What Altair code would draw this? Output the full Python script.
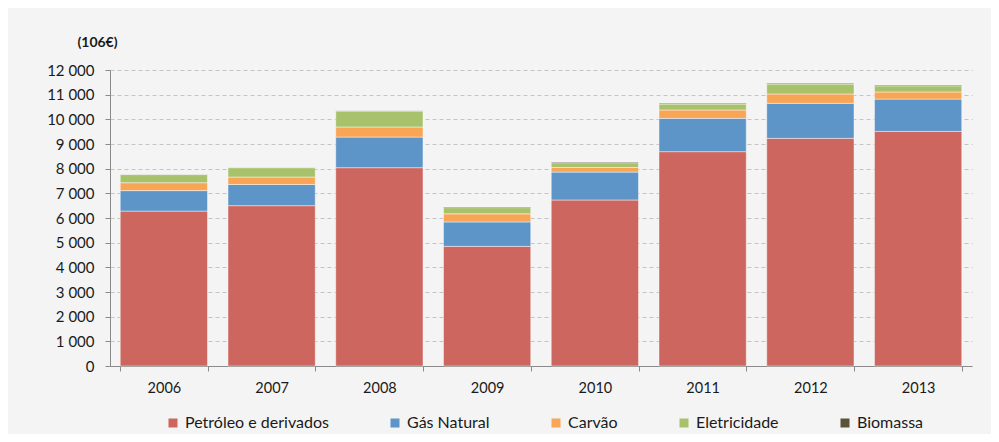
import altair as alt
import pandas as pd

years = ["2006", "2007", "2008", "2009", "2010", "2011", "2012", "2013"]
series = ["Petróleo e derivados", "Gás Natural", "Carvão", "Eletricidade", "Biomassa"]
petroleo = [6280, 6500, 8040, 4850, 6730, 8690, 9230, 9510]
gas_natural = [830, 860, 1240, 990, 1130, 1350, 1420, 1310]
carvao = [320, 300, 410, 330, 190, 340, 380, 290]
eletricidade = [330, 380, 650, 250, 190, 240, 400, 250]
biomassa = [10, 10, 10, 30, 30, 30, 30, 30]
colors = ["#CC665E", "#5E95C8", "#F8A555", "#A8C26C", "#5A5339"]
y_ticks = list(range(0, 12001, 1000))

values_by_series = [petroleo, gas_natural, carvao, eletricidade, biomassa]
rows = []
for i, (name, vals) in enumerate(zip(series, values_by_series)):
    for y, v in zip(years, vals):
        rows.append({"Ano": y, "Série": name, "Valor": v, "idx": i})
df = pd.DataFrame(rows)

FONT = "Lato"

chart = alt.Chart(df).mark_bar(
    stroke="white", strokeOpacity=0.45, strokeWidth=1
).encode(
    x=alt.X(
        "Ano:N",
        sort=years,
        scale=alt.Scale(paddingInner=0.19, paddingOuter=0.095),
        axis=alt.Axis(
            title=None, labelAngle=0, tickBand="extent", tickSize=5,
            labelPadding=10, labelFont=FONT, labelFontSize=14.5,
            labelColor="#1a1a1a", domainColor="#8a8a8a", tickColor="#8a8a8a",
            grid=False,
        ),
    ),
    y=alt.Y(
        "Valor:Q",
        stack="zero",
        scale=alt.Scale(domain=[0, 12000], nice=False),
        axis=alt.Axis(
            values=y_ticks, title="(106€)", titleAngle=0, titleX=-13, titleY=-28,
            titleAlign="center", titleBaseline="middle", titleFont=FONT,
            titleFontSize=14, titleFontWeight="bold", titleColor="#1a1a1a",
            labelExpr="replace(format(datum.value, ','), ',', ' ')",
            labelFont=FONT, labelFontSize=15, labelColor="#1a1a1a", labelPadding=11,
            tickSize=5, tickColor="#8a8a8a", domainColor="#8a8a8a",
            grid=True, gridDash=[4, 3], gridColor="#c4c4c4",
        ),
    ),
    color=alt.Color(
        "Série:N",
        sort=series,
        scale=alt.Scale(domain=series, range=colors),
        legend=alt.Legend(
            title=None, orient="none", direction="horizontal",
            legendX=55, legendY=345, symbolType="square", symbolSize=81,
            symbolStrokeWidth=0, labelFont=FONT, labelFontSize=16,
            labelColor="#1a1a1a", labelOffset=4, columnPadding=58, padding=0,
        ),
    ),
    order=alt.Order("idx:Q", sort="ascending"),
).properties(
    width=862,
    height=296,
    autosize=alt.AutoSizeParams(type="none"),
    padding={"left": 102, "top": 62, "right": 19, "bottom": 68},
    background="#f4f4f4",
).configure_view(stroke=None)

chart.save("out.html", embed_options={"renderer": "svg", "actions": False})
